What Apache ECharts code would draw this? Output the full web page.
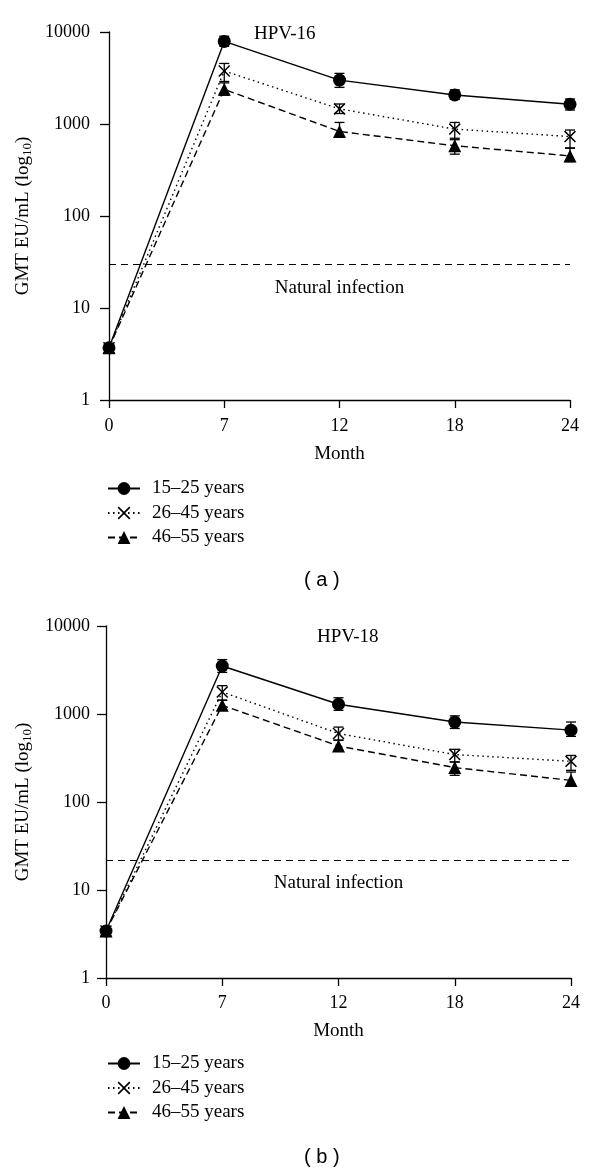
<!DOCTYPE html>
<html><head><meta charset="utf-8">
<script src="https://cdn.jsdelivr.net/npm/echarts@6/dist/echarts.min.js"></script>
<style>html,body{margin:0;padding:0;background:#fff}#c{width:600px;height:1169px}</style>
</head><body><div id="c"></div>
<script>
// ---- data ----
const months = ['0', '7', '12', '18', '24'];
const seriesNames = ['15–25 years', '26–45 years', '46–55 years'];
const yTicks = [1, 10, 100, 1000, 10000];

// Panel (a) HPV-16
const a_1525 = [3.7, 7900, 3000, 2070, 1640];
const a_1525_lo = [3.5, 7000, 2500, 1850, 1420];
const a_1525_hi = [3.9, 9000, 3550, 2350, 1870];
const a_2645 = [3.7, 3770, 1460, 880, 730];
const a_2645_lo = [3.5, 2900, 1300, 700, 550];
const a_2645_hi = [3.9, 4550, 1650, 1040, 860];
const a_4655 = [3.7, 2380, 830, 580, 450];
const a_4655_lo = [3.5, 2050, 720, 470, 390];
const a_4655_hi = [3.9, 2800, 1040, 675, 545];
const a_natural = 30;

// Panel (b) HPV-18
const b_1525 = [3.42, 3510, 1290, 810, 655];
const b_1525_lo = [3.2, 2970, 1100, 685, 557];
const b_1525_hi = [3.65, 4150, 1530, 952, 811];
const b_2645 = [3.42, 1780, 600, 346, 290];
const b_2645_lo = [3.2, 1440, 503, 285, 229];
const b_2645_hi = [3.65, 2100, 710, 397, 338];
const b_4655 = [3.42, 1256, 433, 246, 176];
const b_4655_lo = [3.2, 1100, 385, 201, 158];
const b_4655_hi = [3.65, 1430, 505, 285, 219];
const b_natural = 22;

// ---- styling ----
const SERIF = 'Liberation Serif';
const FS = 19;      // words
const FT = 18;      // tick digits
const X_PATH = 'path://M0,0.9 L0.9,0 L5,4.1 L9.1,0 L10,0.9 L5.9,5 L10,9.1 L9.1,10 L5,5.9 L0.9,10 L0,9.1 L4.1,5 Z';
const styles = [
  {symbol: 'circle', symbolSize: 13, line: {type: 'solid'}},
  {symbol: X_PATH, symbolSize: 12, line: {type: [1.5, 3.5]}},
  {symbol: 'triangle', symbolSize: 13, line: {type: [7, 4]}}
];

function errRender(params, api) {
  const x = api.value(0);
  const lo = api.coord([x, api.value(1)]);
  const hi = api.coord([x, api.value(2)]);
  const w = 5;
  const st = {stroke: '#000', lineWidth: 1.3};
  return {type: 'group', children: [
    {type: 'line', shape: {x1: lo[0], y1: lo[1], x2: hi[0], y2: hi[1]}, style: st},
    {type: 'line', shape: {x1: lo[0] - w, y1: lo[1], x2: lo[0] + w, y2: lo[1]}, style: st},
    {type: 'line', shape: {x1: hi[0] - w, y1: hi[1], x2: hi[0] + w, y2: hi[1]}, style: st}
  ]};
}

function panelSeries(idx, vals, los, his, natural) {
  const out = [];
  vals.forEach((v, k) => {
    const s = styles[k];
    out.push({
      type: 'custom', xAxisIndex: idx, yAxisIndex: idx, z: 2, silent: true,
      renderItem: errRender, encode: {x: 0, y: [1, 2]},
      data: v.map((_, i) => [i, los[k][i], his[k][i]])
    });
    const ser = {
      type: 'line', name: seriesNames[k], xAxisIndex: idx, yAxisIndex: idx, z: 3,
      data: v, symbol: s.symbol, symbolSize: s.symbolSize, showAllSymbol: true,
      itemStyle: {color: '#000'},
      lineStyle: {color: '#000', width: 1.4, type: s.line.type},
      animation: false
    };
    if (k === 0) {
      ser.markLine = {
        silent: true, symbol: 'none', animation: false,
        lineStyle: {color: '#000', width: 1.2, type: [7, 5]},
        label: {show: true, position: 'insideMiddleBottom', formatter: 'Natural infection',
                fontFamily: SERIF, fontSize: FS, color: '#000', distance: 14},
        data: [{yAxis: natural}]
      };
    }
    out.push(ser);
  });
  return out;
}

const grids = [
  {left: 109, top: 32, width: 461, height: 368},
  {left: 106, top: 626, width: 465, height: 352}
];

function xAxis(i, margin, nameGap) {
  return {
    type: 'category', gridIndex: i, data: months, boundaryGap: false,
    axisLine: {onZero: false, lineStyle: {color: '#000', width: 1.3}},
    axisTick: {length: 8, lineStyle: {color: '#000', width: 1.3}, alignWithLabel: true},
    axisLabel: {margin: margin, fontFamily: SERIF, fontSize: FT, color: '#000'},
    name: 'Month', nameLocation: 'middle', nameGap: nameGap,
    nameTextStyle: {fontFamily: SERIF, fontSize: FS, color: '#000'},
    splitLine: {show: false}
  };
}
function yAxis(i, margin, nameGap) {
  return {
    type: 'log', logBase: 10, gridIndex: i, min: yTicks[0], max: yTicks[yTicks.length - 1],
    axisLine: {show: true, lineStyle: {color: '#000', width: 1.3}},
    axisTick: {show: true, length: 9, lineStyle: {color: '#000', width: 1.3}},
    axisLabel: {margin: margin, fontFamily: SERIF, fontSize: FT, color: '#000',
                formatter: v => String(Math.round(v))},
    splitLine: {show: false},
    name: '{a|GMT EU/mL (log}{s|10}{a|)}', nameLocation: 'middle', nameGap: nameGap, nameRotate: 90,
    nameTextStyle: {fontFamily: SERIF, fontSize: FS, color: '#000',
      rich: {a: {fontFamily: SERIF, fontSize: FS, color: '#000'},
             s: {fontFamily: SERIF, fontSize: 13, color: '#000', padding: [9, 0, 0, 0]}}}
  };
}

function legend(top) {
  return {
    orient: 'vertical', left: 102, top: top, itemWidth: 32, itemHeight: 16, itemGap: 5.5,
    data: seriesNames, selectedMode: false,
    textStyle: {fontFamily: SERIF, fontSize: FS, color: '#000', padding: [0, 0, 0, 7]}
  };
}

const option = {
  animation: false,
  backgroundColor: '#fff',
  grid: grids,
  xAxis: [xAxis(0, 17, 45), xAxis(1, 16, 44)],
  yAxis: [yAxis(0, 19, 66), yAxis(1, 16, 63)],
  legend: [legend(474), legend(1049)],
  title: [
    {text: 'HPV-16', left: 249, top: 20, textStyle: {fontFamily: SERIF, fontSize: FS, fontWeight: 'normal', color: '#000'}},
    {text: 'HPV-18', left: 312, top: 623, textStyle: {fontFamily: SERIF, fontSize: FS, fontWeight: 'normal', color: '#000'}},
    {text: '( a )', left: 299, top: 565, textStyle: {fontFamily: 'Liberation Sans', fontSize: 20, fontWeight: 'normal', color: '#000'}},
    {text: '( b )', left: 299, top: 1142, textStyle: {fontFamily: 'Liberation Sans', fontSize: 20, fontWeight: 'normal', color: '#000'}}
  ],
  series: [].concat(
    panelSeries(0, [a_1525, a_2645, a_4655], [a_1525_lo, a_2645_lo, a_4655_lo], [a_1525_hi, a_2645_hi, a_4655_hi], a_natural),
    panelSeries(1, [b_1525, b_2645, b_4655], [b_1525_lo, b_2645_lo, b_4655_lo], [b_1525_hi, b_2645_hi, b_4655_hi], b_natural)
  )
};
const chart = echarts.init(document.getElementById('c'), null, {renderer: 'canvas'});
chart.setOption(option);
</script></body></html>
